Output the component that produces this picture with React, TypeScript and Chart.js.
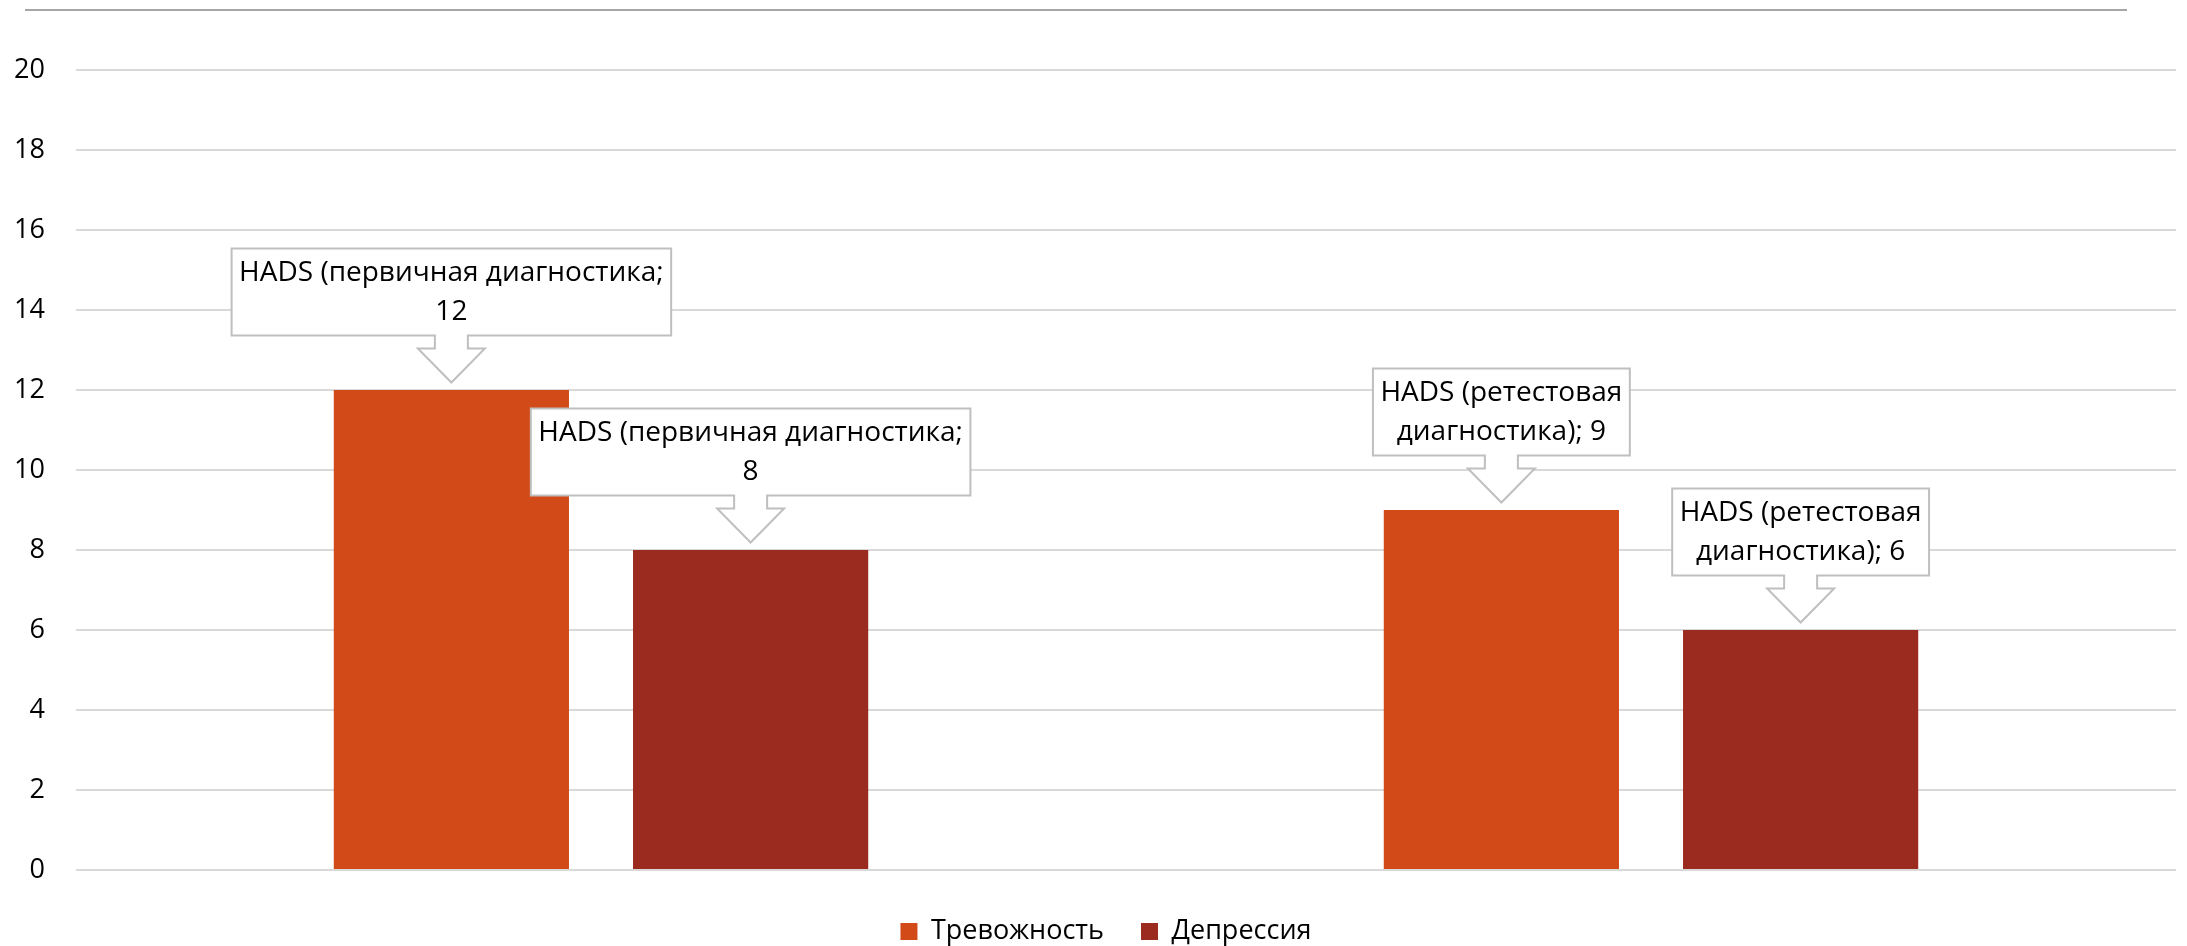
import React, { useEffect, useRef } from "react";
import { Chart, registerables } from "chart.js";

Chart.register(...registerables);

const categories = ["Первичная диагностика", "Ретестовая диагностика"];
const seriesNames = ["Тревожность", "Депрессия"];
const anxietyValues = [12, 9];
const depressionValues = [8, 6];
const seriesColors = ["#D24A18", "#9C2B1F"];
const yTicks = [0, 2, 4, 6, 8, 10, 12, 14, 16, 18, 20];
// callout text per category; {v} is replaced with the bar value
const calloutText = [
  ["HADS (первичная диагностика;", "{v}"],
  ["HADS (ретестовая", "диагностика); {v}"],
];

const FONT = "'Open Sans', 'Noto Sans', sans-serif";

const topRulePlugin = {
  id: "topRule",
  afterInit(chart: any) {
    const lg = chart.legend;
    if (lg && !lg.__patched) {
      const orig = lg.fit.bind(lg);
      lg.fit = function () {
        orig();
        this.height -= 9;
      };
      lg.__patched = true;
    }
  },
  afterLayout(chart: any) {
    // let y tick labels extend into the left padding without being clipped
    if (chart.scales.y) chart.scales.y.left = 0;
  },
  beforeDraw(chart: any) {
    const ctx = chart.ctx;
    ctx.save();
    ctx.strokeStyle = "#a6a6a6";
    ctx.lineWidth = 2;
    ctx.beginPath();
    ctx.moveTo(25, 10);
    ctx.lineTo(2127, 10);
    ctx.stroke();
    ctx.restore();
  },
};

const calloutPlugin = {
  id: "callouts",
  afterDatasetsDraw(chart: any) {
    const ctx = chart.ctx;
    ctx.save();
    ctx.font = `28px ${FONT}`;
    chart.data.datasets.forEach((ds: any, di: number) => {
      const meta = chart.getDatasetMeta(di);
      meta.data.forEach((bar: any, ci: number) => {
        const v = ds.data[ci];
        const lines = calloutText[ci].map((t) => t.replace("{v}", String(v)));
        const cx = bar.x;
        const tip = bar.y - 7.5;
        const headBase = tip - 34;
        const boxBottom = headBase - 13;
        const boxTop = boxBottom - 87;
        const tw = Math.max(...lines.map((l) => ctx.measureText(l).width));
        const w = tw + 15;
        const l = cx - w / 2;
        const r = cx + w / 2;
        ctx.beginPath();
        ctx.moveTo(l, boxTop);
        ctx.lineTo(r, boxTop);
        ctx.lineTo(r, boxBottom);
        ctx.lineTo(cx + 16.5, boxBottom);
        ctx.lineTo(cx + 16.5, headBase);
        ctx.lineTo(cx + 33.5, headBase);
        ctx.lineTo(cx, tip);
        ctx.lineTo(cx - 33.5, headBase);
        ctx.lineTo(cx - 16.5, headBase);
        ctx.lineTo(cx - 16.5, boxBottom);
        ctx.lineTo(l, boxBottom);
        ctx.closePath();
        ctx.fillStyle = "#ffffff";
        ctx.fill();
        ctx.strokeStyle = "#bfbfbf";
        ctx.lineWidth = 2;
        ctx.stroke();
        ctx.fillStyle = "#000000";
        ctx.textAlign = "center";
        ctx.textBaseline = "middle";
        ctx.fillText(lines[0], cx, boxTop + 25);
        ctx.fillText(lines[1], cx, boxTop + 64);
      });
    });
    ctx.restore();
  },
};

export default function App() {
  const ref = useRef<HTMLCanvasElement>(null);
  useEffect(() => {
    if (!ref.current) return;
    const chart = new Chart(ref.current, {
      type: "bar",
      data: {
        labels: categories,
        datasets: [
          {
            label: seriesNames[0],
            data: anxietyValues,
            backgroundColor: seriesColors[0],
            categoryPercentage: 0.57,
            barPercentage: 0.786,
          },
          {
            label: seriesNames[1],
            data: depressionValues,
            backgroundColor: seriesColors[1],
            categoryPercentage: 0.57,
            barPercentage: 0.786,
          },
        ],
      },
      options: {
        responsive: false,
        animation: false,
        devicePixelRatio: 1,
        layout: { padding: { left: 36, right: 11, top: 70, bottom: 0 } },
        scales: {
          x: {
            display: true,
            grid: { display: false },
            border: { display: false },
            ticks: { display: false },
            afterFit: (s: any) => {
              s.height = 11;
            },
          },
          y: {
            min: 0,
            max: 20,
            afterBuildTicks: (s: any) => {
              s.ticks = yTicks.map((value) => ({ value }));
            },
            afterFit: (s: any) => {
              s.width = 40;
            },
            grid: { color: "#d9d9d9", lineWidth: 2, drawTicks: false },
            border: { display: false },
            ticks: {
              padding: 31,
              color: "#000000",
              font: { family: FONT, size: 27 },
            },
          },
        },
        plugins: {
          legend: {
            position: "bottom",
            labels: {
              boxWidth: 17,
              boxHeight: 17,
              padding: 37,
              color: "#000000",
              font: { family: FONT, size: 27 },
            },
          },
          tooltip: { enabled: false },
        },
      },
      plugins: [topRulePlugin, calloutPlugin],
    });
    return () => chart.destroy();
  }, []);
  return (
    <div style={{ position: "fixed", left: 0, top: 0, width: 2187, height: 946, background: "#fff" }}>
      <canvas ref={ref} width={2187} height={946} />
    </div>
  );
}
